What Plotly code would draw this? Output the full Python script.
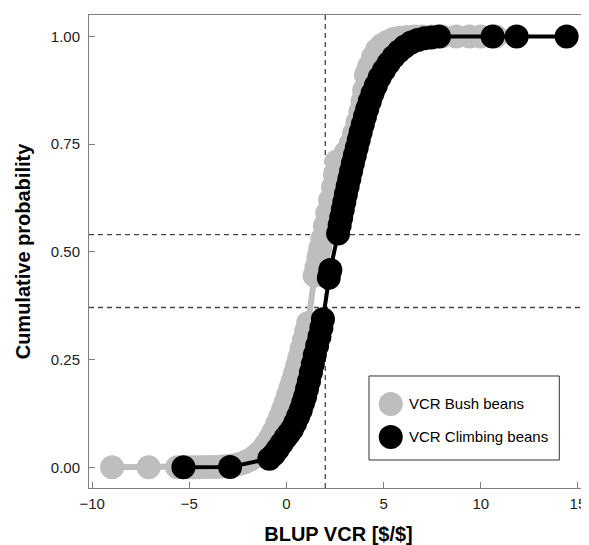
import plotly.graph_objects as go

# ---- data ----
bush_x = [-8.97, -7.09, -5.62, -5.35, -5.05, -4.80, -4.50, -4.20, -3.90, -3.60,
          -3.30, -3.00, -2.70, -2.40, -2.15, -1.90, -1.65, -1.45, -1.25, -1.05,
          -0.85, -0.65, -0.48, -0.32, -0.18, -0.05, 0.08, 0.20, 0.32, 0.44,
          0.55, 0.66, 0.78, 0.90, 1.02, 1.12, 1.45, 1.55, 1.65, 1.74,
          1.85, 1.98, 2.10, 2.25, 2.40, 2.50, 2.58, 3.05, 3.30, 3.48,
          3.65, 3.80, 3.92, 4.00, 4.09, 4.25, 4.45, 4.66, 4.90, 5.20,
          5.50, 5.80, 6.20, 6.60, 7.00, 7.50, 8.00, 8.74, 9.42, 10.00, 10.77]
bush_p = [0.000, 0.000, 0.000, 0.000, 0.000, 0.000, 0.000, 0.001, 0.001, 0.001,
          0.002, 0.003, 0.005, 0.008, 0.012, 0.017, 0.024, 0.032, 0.041, 0.053,
          0.067, 0.083, 0.100, 0.117, 0.133, 0.150, 0.167, 0.183, 0.200, 0.218,
          0.235, 0.254, 0.275, 0.295, 0.316, 0.335, 0.445, 0.465, 0.488, 0.508,
          0.530, 0.560, 0.590, 0.620, 0.650, 0.680, 0.710, 0.730, 0.750, 0.775,
          0.800, 0.825, 0.850, 0.875, 0.911, 0.930, 0.952, 0.969, 0.980, 0.988,
          0.994, 0.997, 0.999, 1.000, 1.000, 1.000, 1.000, 1.000, 1.000, 1.000, 1.000]

climb_x = [-5.30, -2.90, -0.88, -0.65, -0.45, -0.25, -0.05, 0.12, 0.28, 0.45,
           0.60, 0.74, 0.86, 0.96, 1.06, 1.16, 1.26, 1.36, 1.46, 1.58,
           1.70, 1.80, 1.88, 2.18, 2.26, 2.66, 2.74, 2.82, 2.90, 2.98,
           3.06, 3.15, 3.24, 3.33, 3.42, 3.52, 3.62, 3.72, 3.82, 3.93,
           4.04, 4.16, 4.29, 4.43, 4.60, 4.80, 5.02, 5.26, 5.52, 5.80,
           6.10, 6.42, 6.75, 7.10, 7.45, 7.85, 10.61, 11.85, 14.42]
climb_p = [0.000, 0.001, 0.020, 0.030, 0.042, 0.055, 0.068, 0.078, 0.088, 0.103,
           0.118, 0.133, 0.150, 0.164, 0.182, 0.200, 0.220, 0.240, 0.261, 0.282,
           0.303, 0.324, 0.344, 0.440, 0.458, 0.543, 0.562, 0.580, 0.598, 0.616,
           0.634, 0.652, 0.670, 0.688, 0.706, 0.724, 0.742, 0.760, 0.778, 0.796,
           0.814, 0.832, 0.850, 0.868, 0.886, 0.905, 0.922, 0.938, 0.953, 0.966,
           0.977, 0.986, 0.992, 0.996, 0.998, 1.000, 1.000, 1.000, 1.000]

series_names = ["VCR Bush beans", "VCR Climbing beans"]
threshold_vcr = 2.0
threshold_probs = [0.540, 0.371]
x_ticks = [-10, -5, 0, 5, 10, 15]
y_ticks = [0.00, 0.25, 0.50, 0.75, 1.00]

GRAY = "#bebebe"
BLACK = "#000000"
FONT = "Arial, Liberation Sans, sans-serif"

fig = go.Figure()

fig.add_trace(go.Scatter(x=bush_x, y=bush_p, mode="lines+markers",
                         line=dict(color=GRAY, width=6),
                         marker=dict(color=GRAY, size=24),
                         showlegend=False, hoverinfo="skip"))
fig.add_trace(go.Scatter(x=climb_x, y=climb_p, mode="lines+markers",
                         line=dict(color=BLACK, width=4),
                         marker=dict(color=BLACK, size=24),
                         showlegend=False, hoverinfo="skip"))

# legend entries (markers only, as in the reference)
for name, col, grp in [(series_names[0], GRAY, "a"), (series_names[1], BLACK, "b")]:
    fig.add_trace(go.Scatter(x=[None], y=[None], mode="markers", name=name,
                             legendgroup=grp,
                             marker=dict(color=col, size=24)))

fig.add_vline(x=threshold_vcr, line=dict(color="#444444", width=1.3, dash="5px,4px"),
              layer="below")
for p in threshold_probs:
    fig.add_hline(y=p, line=dict(color="#444444", width=1.3, dash="5px,4px"),
                  layer="below")

# legend frame
fig.add_shape(type="rect", xref="paper", yref="paper",
              x0=0.5611, x1=0.9425, y0=0.0592, y1=0.2368,
              line=dict(color="#333333", width=1), fillcolor="white", layer="above")
# enlarge the legend symbols to the reference's 24px discs
for col, ya in [(GRAY, 0.1776), (BLACK, 0.1078)]:
    fig.add_shape(type="circle", xref="paper", yref="paper",
                  xsizemode="pixel", ysizemode="pixel",
                  xanchor=0.6047, yanchor=ya, x0=-12, x1=12, y0=-12, y1=12,
                  line=dict(width=0), fillcolor=col, layer="above")

axis_common = dict(showline=True, linecolor="#808080", linewidth=1, mirror=True,
                   ticks="inside", ticklen=6, tickcolor="#808080", tickwidth=1,
                   showgrid=False, zeroline=False, automargin=False,
                   tickfont=dict(family=FONT, size=15, color="#222222"))

# the page body adds an 8px offset, so the figure is 8px smaller on each axis
fig.update_layout(
    width=581, height=537,
    margin=dict(l=81, r=1, t=7, b=57),
    paper_bgcolor="white", plot_bgcolor="white",
    font=dict(family=FONT, color="#000000"),
    xaxis=dict(range=[-10.16, 15.52], tickvals=x_ticks,
               title=dict(text="<b>BLUP VCR [$/$]</b>", font=dict(family=FONT, size=20),
                          standoff=17),
               ticklabelstandoff=2, **axis_common),
    yaxis=dict(range=[-0.048, 1.050], tickvals=y_ticks, tickformat=".2f",
               title=dict(text="<b>Cumulative probability</b>", font=dict(family=FONT, size=20),
                          standoff=14),
               ticklabelstandoff=5, **axis_common),
    legend=dict(x=0.5611, y=0.2135, xanchor="left", yanchor="top",
                borderwidth=0, bgcolor="rgba(0,0,0,0)",
                font=dict(family=FONT, size=15, color="#000000"),
                traceorder="grouped", tracegroupgap=10, itemsizing="trace"),
)

fig.write_html("out.html")
